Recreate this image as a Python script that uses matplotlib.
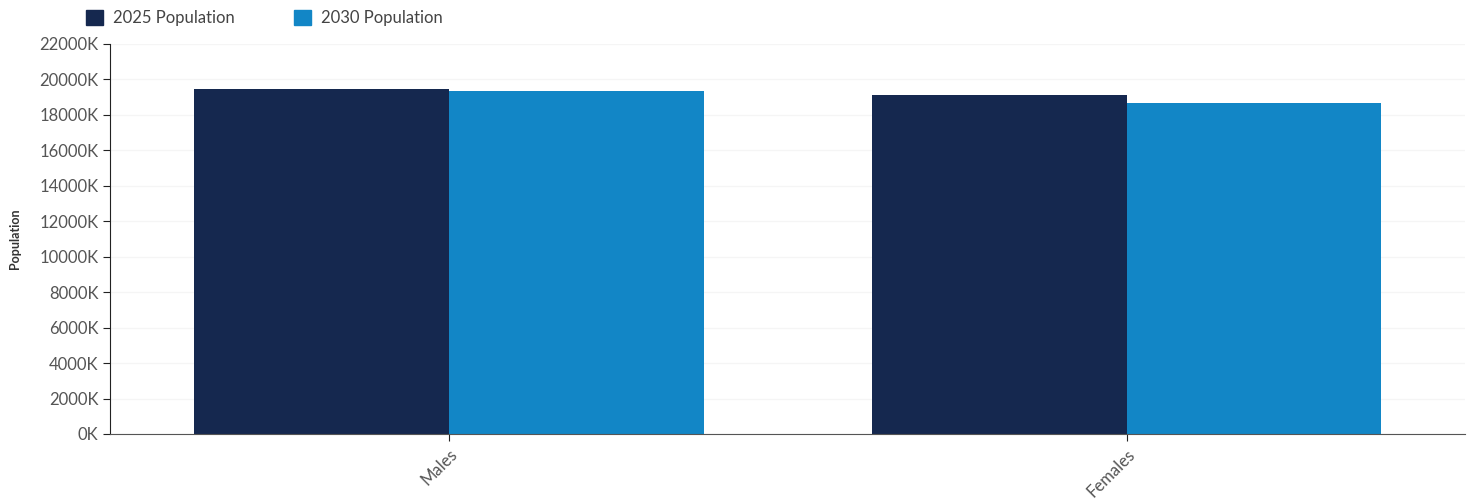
import numpy as np
import matplotlib.pyplot as plt
from matplotlib.patches import Patch
from matplotlib.ticker import FuncFormatter

plt.rcParams["font.family"] = ["Lato", "DejaVu Sans"]

categories = ["Males", "Females"]
series_names = ["2025 Population", "2030 Population"]
pop_2025 = [19460, 19120]  # thousands
pop_2030 = [19350, 18670]
colors = ["#15284f", "#1286c6"]

fig = plt.figure(figsize=(14.76, 5), dpi=100)
ax = fig.add_axes([0.0748, 0.132, 0.918, 0.78])

x = np.arange(len(categories))
w = 0.376
ax.bar(x - w / 2, pop_2025, w, color=colors[0])
ax.bar(x + w / 2, pop_2030, w, color=colors[1])

ax.set_xlim(-0.5, 1.5)
ax.set_ylim(0, 22000)
ax.set_yticks(np.arange(0, 22001, 2000))
ax.yaxis.set_major_formatter(FuncFormatter(lambda v, p: f"{int(v)}K"))
ax.set_xticks(x)
ax.set_xticklabels(categories, rotation=45, ha="right", rotation_mode="anchor")
ax.tick_params(axis="both", labelsize=12, colors="#555555")
ax.tick_params(axis="both", color="#222222", length=5)
ax.grid(axis="y", color="#f5f5f5", linewidth=1)
ax.set_axisbelow(True)
for s in ["top", "right"]:
    ax.spines[s].set_visible(False)
ax.spines["left"].set_color("#222222")
ax.spines["bottom"].set_color("#555555")
ax.set_ylabel("Population", fontsize=9, fontweight="bold", color="#333333")
ax.yaxis.set_label_coords(-0.066, 0.5)

handles = [Patch(color=c, label=n) for c, n in zip(colors, series_names)]
fig.legend(handles=handles, loc="upper left", bbox_to_anchor=(0.048, 1.01),
           ncol=2, frameon=False, fontsize=12, handlelength=1.0, handleheight=1.0,
           columnspacing=3.6, handletextpad=0.6, labelcolor="#444444")

fig.savefig("out.png", dpi=100)
